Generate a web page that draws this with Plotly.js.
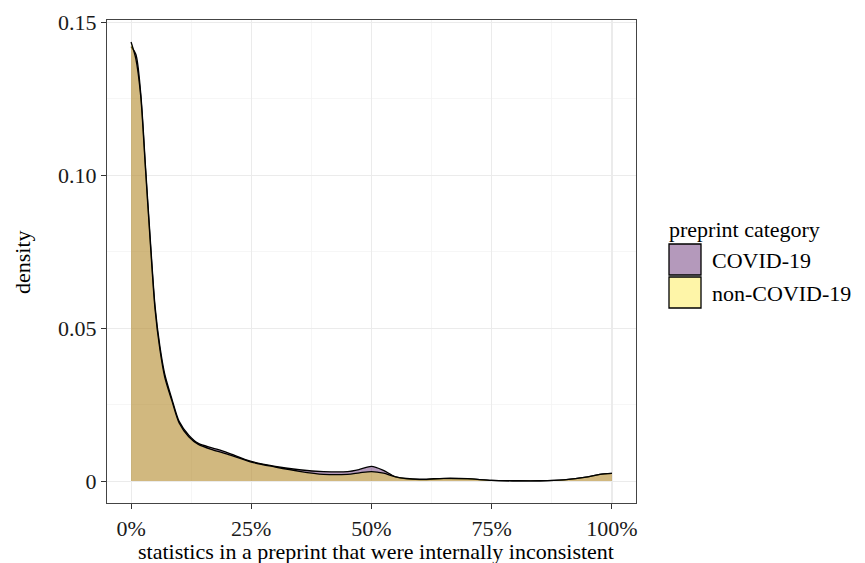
<!DOCTYPE html>
<html>
<head>
<meta charset="utf-8">
<script src="https://cdn.plot.ly/plotly-3.0.1.min.js"></script>
<style>body{margin:0;background:#fff;}#chart{width:865px;height:563px;}</style>
</head>
<body>
<div id="chart"></div>
<script>
const xs = [0, 0.01, 0.02, 0.03, 0.04, 0.05, 0.06, 0.07, 0.085, 0.1, 0.12, 0.14, 0.17, 0.2, 0.25, 0.3, 0.35, 0.4, 0.45, 0.475, 0.5, 0.525, 0.55, 0.6, 0.65, 0.7, 0.75, 0.8, 0.85, 0.9, 0.95, 0.975, 1.0];
const covid = [0.1420, 0.1395, 0.127, 0.103, 0.079, 0.057, 0.044, 0.035, 0.0268, 0.0195, 0.0150, 0.0123, 0.0108, 0.0093, 0.0064, 0.0048, 0.0037, 0.0031, 0.0031, 0.0038, 0.0048, 0.0035, 0.0014, 0.0005, 0.0008, 0.0007, 0.0002, 0.0001, 0.0001, 0.0004, 0.0014, 0.0022, 0.0025];
const nonCovid = [0.1435, 0.138, 0.126, 0.102, 0.078, 0.056, 0.043, 0.034, 0.0262, 0.0190, 0.0145, 0.0120, 0.0102, 0.0088, 0.0062, 0.0046, 0.0032, 0.0022, 0.0022, 0.0027, 0.0031, 0.0026, 0.0014, 0.0006, 0.0009, 0.0008, 0.0002, 0.0001, 0.0001, 0.0004, 0.0014, 0.0022, 0.0025];
const seriesNames = ["COVID-19", "non-COVID-19"];
const fillColors = ["rgba(68,1,84,0.4)", "rgba(253,231,37,0.4)"];
const legendKeyColors = ["#b499bb", "#fef5a8"];
const xTickVals = [0, 0.25, 0.5, 0.75, 1];
const xTickText = ["0%", "25%", "50%", "75%", "100%"];
const yTickVals = [0, 0.05, 0.10, 0.15];
const yTickText = ["0", "0.05", "0.10", "0.15"];
const xTitle = "statistics in a preprint that were internally inconsistent";
const yTitle = "density";
const legendTitle = "preprint category";

const font = "Liberation Serif, Times New Roman, serif";
const fs = 22;
const series = [covid, nonCovid];
const traces = series.map((s, i) => ({
  x: xs, y: s, type: "scatter", mode: "lines", name: seriesNames[i],
  fill: "tozeroy", fillcolor: fillColors[i],
  line: {color: "#000", width: 1.3, shape: "spline", smoothing: 0.8},
  showlegend: false, hoverinfo: "x+y"
}));

const px = x => (x - 107) / 529;
const py = y => (503 - y) / 483;
const shapes = [];
const annotations = [];
annotations.push({xref: "paper", yref: "paper", x: px(667), y: py(229), xanchor: "left", yanchor: "middle",
  text: legendTitle, showarrow: false, font: {family: font, size: fs, color: "#000"}});
seriesNames.forEach((n, i) => {
  const top = 244 + i * 33;
  shapes.push({type: "rect", xref: "paper", yref: "paper",
    x0: px(669), x1: px(701), y0: py(top + 31), y1: py(top),
    fillcolor: legendKeyColors[i], line: {color: "#000", width: 1.3}});
  annotations.push({xref: "paper", yref: "paper", x: px(710), y: py(top + 16),
    xanchor: "left", yanchor: "middle", text: n, showarrow: false,
    font: {family: font, size: fs, color: "#000"}});
});
annotations.push({xref: "paper", yref: "paper", x: px(376), y: py(551), xanchor: "center", yanchor: "middle",
  text: xTitle, showarrow: false, font: {family: font, size: fs, color: "#000"}});
annotations.push({xref: "paper", yref: "paper", x: px(22), y: py(262), xanchor: "center", yanchor: "middle",
  text: yTitle, textangle: -90, showarrow: false, font: {family: font, size: fs, color: "#000"}});

const layout = {
  width: 865, height: 563,
  margin: {l: 107, r: 229, t: 20, b: 60},
  paper_bgcolor: "#fff", plot_bgcolor: "#fff",
  font: {family: font, color: "#000"},
  showlegend: false,
  xaxis: {
    range: [-0.05, 1.05], tickvals: xTickVals, ticktext: xTickText,
    ticks: "outside", ticklen: 5, tickcolor: "#333", tickwidth: 1,
    showline: true, linecolor: "#444", linewidth: 1.2, mirror: true,
    showgrid: true, gridcolor: "#ebebeb", gridwidth: 1.1, zeroline: false,
    minor: {tickvals: [0.125, 0.375, 0.625, 0.875], showgrid: true, gridcolor: "#f4f4f4", gridwidth: 0.8, ticks: ""},
    tickfont: {family: font, size: fs, color: "#1a1a1a"}
  },
  yaxis: {
    range: [-0.00717, 0.1507], tickvals: yTickVals, ticktext: yTickText,
    ticks: "outside", ticklen: 5, tickcolor: "#333", tickwidth: 1,
    showline: true, linecolor: "#444", linewidth: 1.2, mirror: true,
    showgrid: true, gridcolor: "#ebebeb", gridwidth: 1.1, zeroline: false,
    minor: {tickvals: [0.025, 0.075, 0.125], showgrid: true, gridcolor: "#f4f4f4", gridwidth: 0.8, ticks: ""},
    tickfont: {family: font, size: fs, color: "#1a1a1a"}
  },
  shapes: shapes,
  annotations: annotations
};

Plotly.newPlot("chart", traces, layout, {displayModeBar: false, staticPlot: true});
</script>
</body>
</html>
